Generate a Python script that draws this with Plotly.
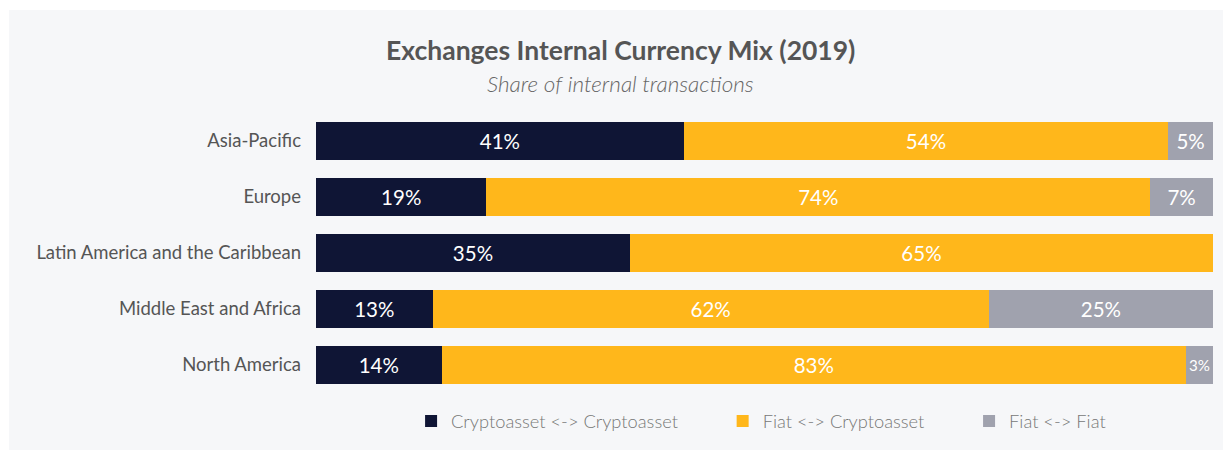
import plotly.graph_objects as go

# Data
regions = ["Asia-Pacific", "Europe", "Latin America and the Caribbean",
           "Middle East and Africa", "North America"]
crypto_crypto = [41, 19, 35, 13, 14]
fiat_crypto = [54, 74, 65, 62, 83]
fiat_fiat = [5, 7, 0, 25, 3]

series_names = ["Cryptoasset <-> Cryptoasset", "Fiat <-> Cryptoasset", "Fiat <-> Fiat"]
series_colors = ["#0f1535", "#ffb71b", "#a0a2ae"]

pad = "\u00a0" * 8  # extra gap between legend entries

fig = go.Figure()

for name, vals, color in zip(series_names, [crypto_crypto, fiat_crypto, fiat_fiat], series_colors):
    fig.add_trace(go.Bar(
        y=regions,
        x=vals,
        name=name + pad,
        orientation="h",
        marker=dict(color=color, line=dict(width=0)),
        text=[f"{v}%" if v > 0 else "" for v in vals],
        textposition="inside",
        insidetextanchor="middle",
        textangle=0,
        textfont=dict(family="Lato", size=20.5, color="white"),
        hoverinfo="skip",
    ))

# light panel behind the chart
fig.add_shape(
    type="rect", xref="paper", yref="paper",
    x0=-0.3423, x1=1.2, y0=-0.4, y1=1.368,
    fillcolor="#f6f7f9", line=dict(width=0), layer="below",
)

# title + subtitle
fig.add_annotation(
    x=0.340, y=1.225, xref="paper", yref="paper", yanchor="middle",
    text="<b>Exchanges Internal Currency Mix (2019)</b>",
    showarrow=False, font=dict(family="Lato", size=26.5, color="#555555"),
)
fig.add_annotation(
    x=0.340, y=1.107, xref="paper", yref="paper", yanchor="middle",
    text="<i>Share of internal transactions</i>",
    showarrow=False, font=dict(family="Lato", size=22.5, color="#666666", weight=300),
)

# page body adds an 8px offset, so the figure is drawn 8px smaller
fig.update_layout(
    width=1223, height=442,
    margin=dict(l=308, r=18, t=105, b=57, autoexpand=False),
    barmode="stack",
    bargap=0.32,
    paper_bgcolor="white",
    plot_bgcolor="#f6f7f9",
    font=dict(family="Lato", color="#555555"),
    showlegend=True,
    legend=dict(
        orientation="h", x=0.106, xanchor="left", y=-0.1, yanchor="middle",
        font=dict(family="Lato", size=18.3, color="#777777", weight=300),
        bgcolor="rgba(0,0,0,0)", traceorder="normal",
    ),
    xaxis=dict(range=[0, 100], showgrid=False, zeroline=False,
               showticklabels=False, fixedrange=True),
    yaxis=dict(categoryorder="array", categoryarray=regions, autorange="reversed",
               showgrid=False, zeroline=False, ticks="",
               tickfont=dict(family="Lato", size=18.5, color="#555555"),
               ticklabelstandoff=14),
)

fig.write_html("out.html")
